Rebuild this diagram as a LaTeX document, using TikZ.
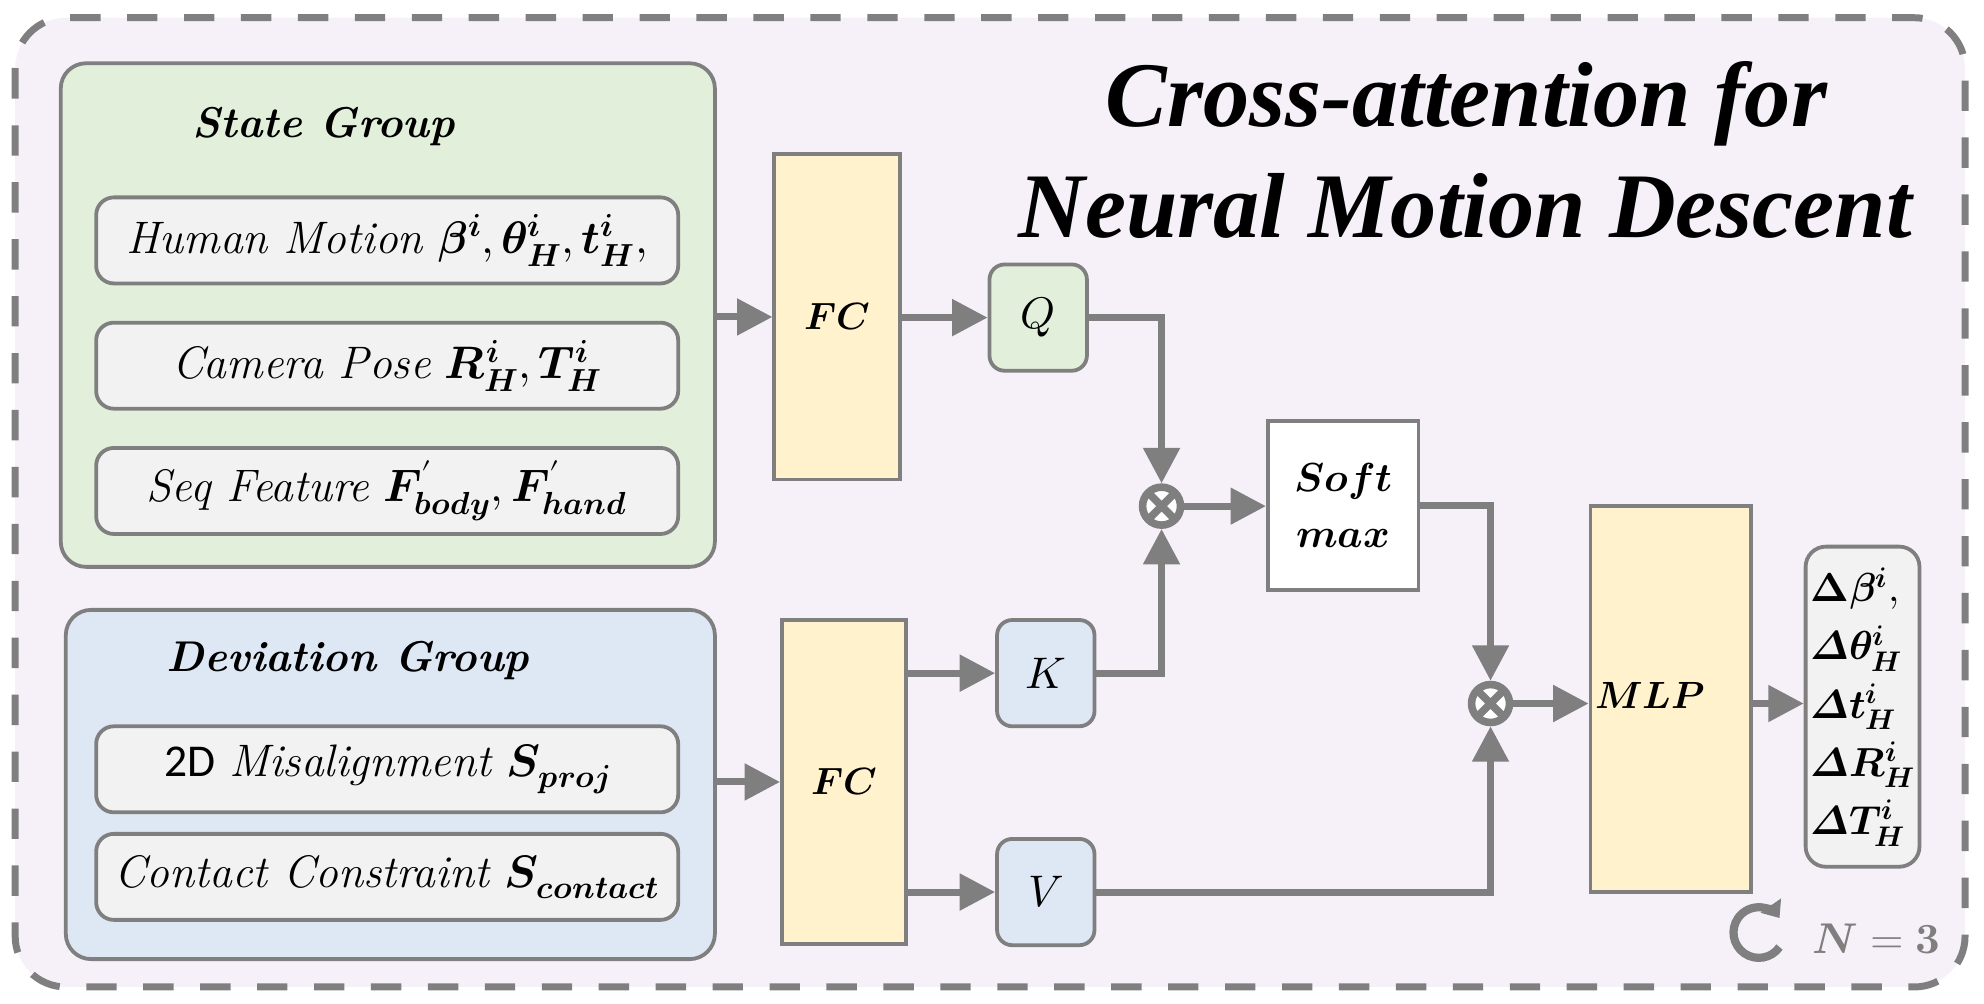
\documentclass[tikz,border=0pt]{standalone}
\usepackage{fontspec}
\usepackage{unicode-math}
\setmathfont{Latin Modern Math}
\newfontfamily\titlefont{Liberation Serif}
\newfontfamily\calfont{Carlito}
\usetikzlibrary{arrows.meta,calc}
\definecolor{edge}{HTML}{7F7F7F}
\definecolor{bgp}{HTML}{F6F1F9}
\definecolor{grn}{HTML}{E2EFDA}
\definecolor{blu}{HTML}{DEE8F5}
\definecolor{yel}{HTML}{FFF2CC}
\definecolor{pale}{HTML}{F2F2F2}
\newcommand{\bfi}[1]{\symbfit{#1}}
\tikzset{
  grp/.style={draw=edge, line width=3pt, rounded corners=20pt, inner sep=0pt},
  item/.style={draw=edge, line width=3pt, rounded corners=14pt, fill=pale, minimum width=460pt, minimum height=68pt, inner sep=0pt, font=\fontsize{36}{42}\selectfont},
  layer/.style={draw=edge, line width=3pt, fill=yel, inner sep=0pt, font=\fontsize{30}{36}\selectfont},
  qkv/.style={draw=edge, line width=3pt, rounded corners=12pt, minimum width=77pt, minimum height=84pt, inner sep=0pt, font=\fontsize{35}{40}\selectfont},
  mult/.style={circle, draw=edge, line width=6pt, fill=white, minimum size=30pt, inner sep=0pt,
    path picture={\draw[edge, line width=6pt] (path picture bounding box.north east) -- (path picture bounding box.south west) (path picture bounding box.north west) -- (path picture bounding box.south east);}},
  conn/.style={draw=edge, line width=5.5pt},
  arr/.style={conn, -{Triangle[length=28pt,width=28pt]}},
  lbl/.style={font=\fontsize{34}{40}\selectfont\bfseries\itshape},
  ttl/.style={font=\titlefont\fontsize{73}{78}\selectfont\bfseries\itshape, anchor=base, inner sep=0pt},
}
\begin{document}
\begin{tikzpicture}[x=1pt,y=-1pt]
\useasboundingbox (0,0) rectangle (1568,793);
\draw[edge, fill=bgp, line width=5.5pt, dash pattern=on 24pt off 21pt, rounded corners=40pt] (12,14) rectangle (1553,780);

\node[ttl] (t1) at (1159,100) {Cross-attention for};
\node[ttl] (t2) at (1158,188) {Neural Motion Descent};

% State group
\node[grp, fill=grn, minimum width=517pt, minimum height=398pt] (sg) at (306.5,249) {};
\node[lbl] (sgl) at (256,100) {State Group};
\node[item] (hm) at (306,190) {\textit{Human Motion} $\bfi{\beta}^{\bfi{i}},\bfi{\theta}^{\bfi{i}}_{\bfi{H}},\bfi{t}^{\bfi{i}}_{\bfi{H}},$};
\node[item] (cp) at (306,289) {\textit{Camera Pose} $\bfi{R}^{\bfi{i}}_{\bfi{H}},\bfi{T}^{\bfi{i}}_{\bfi{H}}$};
\node[item] (sf) at (306,388) {\textit{Seq Feature} $\bfi{F}^{\prime}_{\bfi{body}},\bfi{F}^{\prime}_{\bfi{hand}}$};

% Deviation group
\node[grp, fill=blu, minimum width=513pt, minimum height=276pt] (dg) at (308.5,620) {};
\node[lbl] (dgl) at (275,522) {Deviation Group};
\node[item] (md) at (306,608) {{\calfont 2D} \textit{Misalignment} $\bfi{S}_{\bfi{proj}}$};
\node[item] (cc) at (306,693) {\textit{Contact Constraint} $\bfi{S}_{\bfi{contact}}$};

% FC layers
\node[layer, minimum width=99pt, minimum height=257pt] (fc1) at (661.5,250.5) {$\bfi{FC}$};
\node[layer, minimum width=98pt, minimum height=256pt] (fc2) at (667,618) {$\bfi{FC}$};

% Q K V
\node[qkv, fill=grn] (q) at (820.5,251) {$Q$};
\node[qkv, fill=blu] (k) at (826.5,532) {$K$};
\node[qkv, fill=blu] (v) at (826.5,705) {$V$};

% multiply nodes
\node[mult] (m1) at (918,400) {};
\node[mult] (m2) at (1178,556) {};

% softmax
\node[draw=edge, line width=3pt, fill=white, minimum width=119pt, minimum height=133pt, inner sep=0pt, align=center, font=\fontsize{32}{44}\selectfont] (sm) at (1061.5,399.5) {$\bfi{Soft}$\\$\bfi{max}$};

% MLP
\node[layer, minimum width=127pt, minimum height=305pt] (mlp) at (1320.5,552.5) {};
\node[font=\fontsize{30}{36}\selectfont, inner sep=0pt] (mlpl) at (1304,550) {$\bfi{MLP}$};

% output
\node[draw=edge, line width=3pt, fill=pale, rounded corners=16pt, minimum width=90pt, minimum height=253pt, inner sep=0pt, align=left, font=\fontsize{32}{46}\selectfont] (out) at (1472,558.5)
 {$\symbf{\Delta}\bfi{\beta}^{\bfi{i}},$\\$\bfi{\Delta}\bfi{\theta}^{\bfi{i}}_{\bfi{H}}$\\$\bfi{\Delta}\bfi{t}^{\bfi{i}}_{\bfi{H}}$\\$\bfi{\Delta}\bfi{R}^{\bfi{i}}_{\bfi{H}}$\\$\bfi{\Delta}\bfi{T}^{\bfi{i}}_{\bfi{H}}$};

% connectors
\draw[arr] (sg.east |- fc1.west) -- (fc1.west);
\draw[arr] (dg.east |- fc2.west) -- (fc2.west);
\draw[arr] (fc1.east |- q.west) -- (q.west);
\draw[arr] (fc2.east |- k.west) -- (k.west);
\draw[arr] (fc2.east |- v.west) -- (v.west);
\draw[arr] (q.east) -| (m1.north);
\draw[arr] (k.east) -| (m1.south);
\draw[arr] (m1.east) -- (m1.east -| sm.west);
\draw[arr] (sm.east) -| (m2.north);
\draw[arr] (v.east) -| (m2.south);
\draw[arr] (m2.east) -- (m2.east -| mlp.west);
\draw[arr] (mlp.east |- m2.east) -- (m2.east -| out.west);

% loop icon
\draw[edge, line width=6.5pt, -{Triangle[length=12pt,width=19pt]}] ([shift={(35:20)}]1390,737) arc[start angle=35, end angle=325, radius=20];
\node[text=edge, font=\fontsize{34}{40}\selectfont] (n3) at (1483,742) {$\bfi{N}=\symbf{3}$};
\end{tikzpicture}
\end{document}
